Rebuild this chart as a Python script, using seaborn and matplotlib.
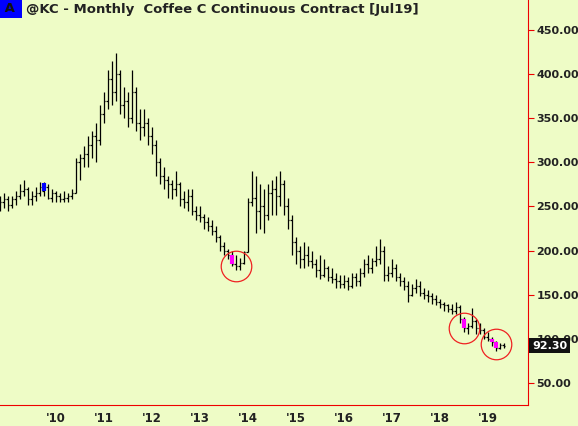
import matplotlib.pyplot as plt
import seaborn as sns
import numpy as np

sns.set_style("white")

# monthly bars Nov 2008 .. May 2019
opens = [250, 255,
         258, 252, 258, 262, 268, 270, 258, 262, 265, 268, 272, 260,
         265, 262, 258, 260, 262, 265, 300, 305, 310, 320, 330, 325,
         355, 370, 395, 380, 400, 365, 370, 350, 380, 345, 340, 345,
         330, 320, 300, 285, 280, 275, 270, 275, 258, 255, 262, 245,
         240, 238, 232, 228, 222, 215, 205, 200, 195, 185, 183, 186,
         198, 255, 260, 245, 250, 240, 265, 270, 262, 275, 250, 235,
         210, 200, 190, 195, 188, 185, 178, 172, 180, 170, 168, 165,
         162, 165, 160, 170, 165, 175, 185, 180, 188, 190, 200, 172,
         175, 180, 170, 165, 160, 150, 158, 160, 152, 150, 148, 145,
         142, 140, 138, 134, 132, 136, 122, 112, 115, 120, 112, 110,
         102, 100, 96, 90, 93]
highs = [262, 265,
         262, 262, 268, 275, 280, 272, 268, 272, 278, 278, 275, 270,
         268, 265, 268, 265, 270, 305, 310, 318, 330, 335, 345, 365,
         380, 405, 415, 424, 405, 385, 380, 405, 385, 360, 360, 350,
         340, 325, 305, 295, 285, 280, 290, 278, 268, 270, 270, 250,
         250, 242, 238, 235, 228, 218, 210, 202, 200, 195, 192, 200,
         260, 290, 285, 275, 270, 275, 280, 285, 290, 280, 260, 240,
         215, 205, 210, 205, 200, 190, 195, 190, 182, 180, 175, 172,
         172, 170, 175, 175, 180, 190, 195, 192, 205, 213, 205, 182,
         190, 185, 175, 170, 165, 162, 168, 165, 158, 155, 152, 150,
         145, 142, 140, 140, 142, 138, 125, 118, 135, 122, 118, 112,
         108, 102, 98, 95, 95]
lows = [245, 248,
        245, 248, 252, 258, 262, 252, 252, 256, 262, 262, 258, 255,
        255, 255, 255, 255, 258, 265, 280, 295, 295, 305, 300, 320,
        345, 360, 365, 370, 355, 350, 340, 345, 335, 325, 330, 320,
        310, 285, 275, 270, 260, 258, 262, 250, 248, 245, 240, 235,
        232, 225, 222, 218, 210, 200, 195, 190, 182, 178, 178, 185,
        198, 250, 220, 225, 220, 235, 240, 240, 250, 240, 225, 195,
        185, 180, 180, 182, 180, 170, 168, 170, 165, 163, 158, 158,
        158, 155, 158, 160, 160, 170, 175, 175, 182, 185, 165, 165,
        170, 165, 160, 155, 142, 148, 152, 148, 145, 142, 140, 138,
        135, 132, 130, 128, 128, 118, 108, 106, 112, 105, 105, 100,
        98, 92, 86, 88, 90]
closes = [255, 258,
          252, 258, 262, 268, 270, 258, 262, 265, 272, 272, 260, 265,
          262, 258, 260, 262, 265, 300, 305, 310, 320, 330, 325, 355,
          370, 395, 380, 400, 365, 370, 350, 380, 345, 340, 345, 330,
          320, 300, 285, 280, 275, 270, 275, 258, 255, 262, 245, 240,
          238, 232, 228, 222, 215, 205, 200, 195, 185, 183, 186, 198,
          255, 260, 245, 250, 240, 265, 270, 262, 275, 250, 235, 210,
          200, 190, 195, 188, 185, 178, 172, 180, 170, 168, 165, 162,
          165, 160, 170, 165, 175, 185, 180, 188, 190, 200, 172, 175,
          180, 170, 165, 160, 150, 158, 160, 152, 150, 148, 145, 142,
          140, 138, 134, 132, 136, 122, 112, 115, 120, 112, 110, 102,
          100, 96, 90, 93, 92.3]
blue_bars = [11]
magenta_bars = [58, 116, 123, 124]
circled = [(59, 183), (116, 112), (124, 94)]
year_labels = ["'10", "'11", "'12", "'13", "'14", "'15", "'16", "'17", "'18", "'19"]
y_ticks = [50, 100, 150, 200, 250, 300, 350, 400, 450]

bg = '#EEFCC6'
fig = plt.figure(figsize=(5.78, 4.26), dpi=100, facecolor=bg)
ax = fig.add_axes([0, 21 / 426, 528 / 578, 405 / 426])
ax.set_facecolor(bg)

x = np.arange(len(closes)) - 0.6
ax.vlines(x, lows, highs, color='black', linewidth=0.9)
ax.hlines(opens, x - 0.35, x, color='black', linewidth=0.9)
ax.hlines(closes, x, x + 0.35, color='black', linewidth=0.9)
for i in blue_bars:
    ax.vlines(x[i], min(opens[i], closes[i]), max(opens[i], closes[i]) + 5, color='#0000FF', linewidth=3)
for i in magenta_bars:
    ax.vlines(x[i], min(opens[i], closes[i]), max(opens[i], closes[i]), color='#FF00FF', linewidth=3)
for cx, cy in circled:
    ax.plot(cx - 0.6, cy, 'o', markersize=22, markerfacecolor='none', markeredgecolor='#EE2222', markeredgewidth=0.9)

ax.set_xlim(-0.5, 131.5)
ax.set_ylim(25, 484)
ax.set_xticks([13.4 + 12 * k for k in range(len(year_labels))])
ax.set_xticklabels(year_labels, fontsize=8.5, fontweight='bold')
ax.yaxis.tick_right()
ax.set_yticks(y_ticks)
ax.set_yticklabels([f"{v:.2f}" for v in y_ticks], fontsize=8, fontweight='bold')
ax.tick_params(axis='both', colors='#EE0000', length=4, labelcolor='#222222')
ax.tick_params(axis='x', pad=1)
ax.tick_params(axis='y', pad=2)
for s in ['top', 'left']:
    ax.spines[s].set_visible(False)
for s in ['right', 'bottom']:
    ax.spines[s].set_color('#EE0000')

fig.text(0, 1 - 9 / 426, ' A ', fontsize=9.5, fontweight='bold', color='#111111', va='center',
         bbox=dict(boxstyle='square,pad=0.2', fc='#0000FF', ec='none'))
fig.text(26 / 578, 1 - 9 / 426, '@KC - Monthly  Coffee C Continuous Contract [Jul19]', fontsize=9.5,
         fontweight='bold', color='#222222', va='center')
ax.annotate(f"{closes[-1]:.2f}", xy=(1.0, closes[-1]), xycoords=('axes fraction', 'data'),
            xytext=(3, 0), textcoords='offset points', va='center', ha='left', fontsize=8,
            fontweight='bold', color='white', bbox=dict(boxstyle='square,pad=0.25', fc='#111111', ec='none'),
            annotation_clip=False, zorder=5)

fig.savefig('out.png', dpi=100, facecolor=bg)
